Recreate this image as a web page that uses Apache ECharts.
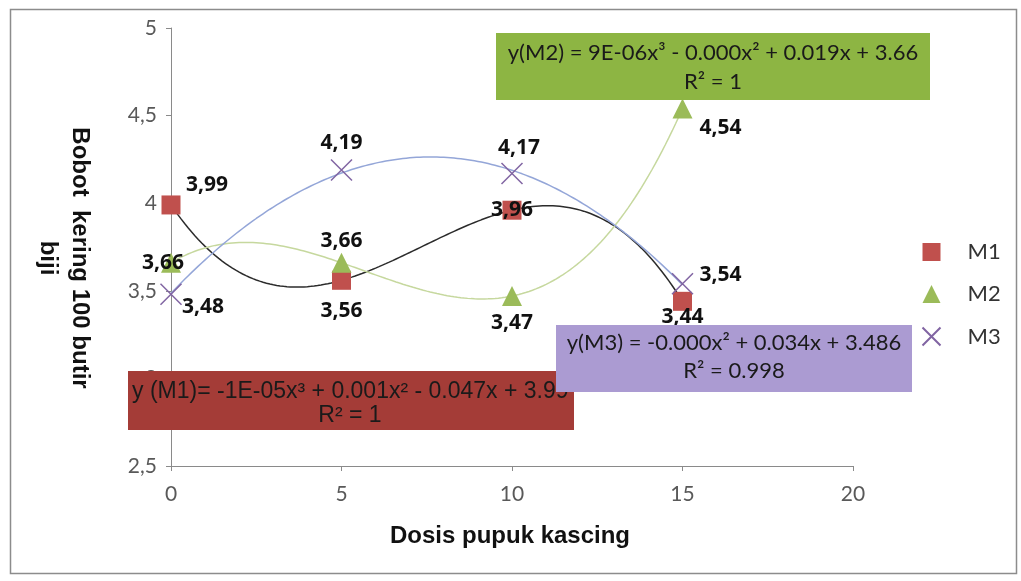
<!DOCTYPE html>
<html>
<head>
<meta charset="utf-8">
<script src="https://cdn.jsdelivr.net/npm/echarts@6/dist/echarts.min.js"></script>
<style>
html,body{margin:0;padding:0;background:#fff;}
#main{width:1021px;height:581px;}
</style>
</head>
<body>
<div id="main"></div>
<script>
// ---- data ----
var dosis = [0, 5, 10, 15];
var seriesNames = ['M1', 'M2', 'M3'];
var m1 = [3.99, 3.56, 3.96, 3.44];
var m2 = [3.66, 3.66, 3.47, 4.54];
var m3 = [3.48, 4.19, 4.17, 3.54];
var trendDegree = [3, 3, 2];
var yTicks = [2.5, 3, 3.5, 4, 4.5, 5];
var xTicks = [0, 5, 10, 15, 20];
var eqM1 = ['y (M1)= -1E-05x³ + 0.001x² - 0.047x + 3.99', 'R² = 1'];
var eqM2 = ['y(M2) = 9E-06x³ - 0.000x² + 0.019x + 3.66', 'R² = 1'];
var eqM3 = ['y(M3) = -0.000x² + 0.034x + 3.486', 'R² = 0.998'];
var xTitle = 'Dosis pupuk kascing';
var yTitle = 'Bobot  kering 100 butir\nbiji';

// ---- label offsets (style) ----
var labelOffsets = [
  [[36, -20], [0, 31], [0, 0], [0, 16]],
  [[-8, 0], [0, -22], [0, 27], [38, 19]],
  [[32, 13], [0, -27], [7, -25], [38, -9]]
];

// least-squares polynomial fit (trendline)
function polyfit(xs, ys, deg) {
  var n = deg + 1, A = [], b = [];
  for (var i = 0; i < n; i++) {
    A.push([]); b.push(0);
    for (var j = 0; j < n; j++) {
      var s = 0;
      for (var k = 0; k < xs.length; k++) s += Math.pow(xs[k], i + j);
      A[i].push(s);
    }
    for (var k2 = 0; k2 < xs.length; k2++) b[i] += ys[k2] * Math.pow(xs[k2], i);
  }
  for (var c = 0; c < n; c++) {
    var p = c;
    for (var r = c + 1; r < n; r++) if (Math.abs(A[r][c]) > Math.abs(A[p][c])) p = r;
    var t = A[c]; A[c] = A[p]; A[p] = t; var tb = b[c]; b[c] = b[p]; b[p] = tb;
    for (var r2 = c + 1; r2 < n; r2++) {
      var f = A[r2][c] / A[c][c];
      for (var cc = c; cc < n; cc++) A[r2][cc] -= f * A[c][cc];
      b[r2] -= f * b[c];
    }
  }
  var coef = new Array(n);
  for (var i2 = n - 1; i2 >= 0; i2--) {
    var s2 = b[i2];
    for (var j2 = i2 + 1; j2 < n; j2++) s2 -= A[i2][j2] * coef[j2];
    coef[i2] = s2 / A[i2][i2];
  }
  return coef;
}
function trend(xs, ys, deg) {
  var coef = polyfit(xs, ys, deg), out = [];
  var x0 = xs[0], x1 = xs[xs.length - 1];
  for (var x = x0; x <= x1 + 1e-9; x += 0.1) {
    var y = 0;
    for (var i = 0; i < coef.length; i++) y += coef[i] * Math.pow(x, i);
    out.push([x, y]);
  }
  return out;
}
function fmt(v) { return String(v).replace('.', ','); }

var markerColors = ['#c0504d', '#9bbb59', '#8064a2'];
var trendColors = ['#2b2b2b', '#c6d89e', '#94a6d8'];
var symbols = ['rect', 'triangle', 'path://M0,0L10,10M10,0L0,10'];
var allY = [m1, m2, m3];

var series = [];
allY.forEach(function (ys, si) {
  series.push({
    type: 'line',
    name: seriesNames[si] + ' trend',
    data: trend(dosis, ys, trendDegree[si]),
    showSymbol: false,
    symbol: 'none',
    lineStyle: { color: trendColors[si], width: 1.5 },
    z: 2,
    silent: true
  });
});
allY.forEach(function (ys, si) {
  series.push({
    type: 'scatter',
    name: seriesNames[si],
    symbol: symbols[si],
    symbolSize: si === 0 ? 19 : (si === 2 ? 21 : 20),
    itemStyle: si === 2
      ? { color: 'none', borderColor: markerColors[si], borderWidth: 1.5, opacity: 1 }
      : { color: markerColors[si], opacity: 1 },
    z: 3,
    data: dosis.map(function (x, i) {
      return {
        value: [x, ys[i]],
        label: { offset: labelOffsets[si][i] }
      };
    }),
    label: {
      show: true,
      position: 'inside',
      formatter: function (p) { return fmt(p.value[1]); },
      color: '#111',
      fontFamily: 'Open Sans',
      fontWeight: 'bold',
      fontSize: 21
    }
  });
});

var chart = echarts.init(document.getElementById('main'), null, { renderer: 'canvas' });
chart.setOption({
  animation: false,
  backgroundColor: '#fff',
  grid: { left: 171, right: 168, top: 28, bottom: 115 },
  xAxis: {
    type: 'value',
    min: xTicks[0], max: xTicks[xTicks.length - 1], interval: 5,
    axisLine: { lineStyle: { color: '#8a8a8a' } },
    axisTick: { show: true, length: 5, lineStyle: { color: '#8a8a8a' } },
    splitLine: { show: false },
    axisLabel: { color: '#595959', fontFamily: 'Lato', fontSize: 21, margin: 18 }
  },
  yAxis: {
    type: 'value',
    min: yTicks[0], max: yTicks[yTicks.length - 1], interval: 0.5,
    axisLine: { show: true, lineStyle: { color: '#8a8a8a' } },
    axisTick: { show: true, length: 5, lineStyle: { color: '#8a8a8a' } },
    splitLine: { show: false },
    axisLabel: { color: '#595959', fontFamily: 'Lato', fontSize: 21, margin: 14, formatter: function (v) { return fmt(v); } }
  },
  legend: {
    orient: 'vertical',
    left: 915, top: 236,
    itemGap: 20,
    itemWidth: 18, itemHeight: 18,
    data: seriesNames,
    textStyle: { color: '#333', fontFamily: 'Lato', fontSize: 22, padding: [0, 0, 0, 22] }
  },
  graphic: [
    { type: 'rect', left: 8, top: 7, shape: { width: 1006, height: 564 }, style: { fill: 'none', stroke: '#8c8c8c', lineWidth: 1.5 }, z: 0 },
    { type: 'text', x: 510, y: 536, style: { text: xTitle, font: 'bold 24px "Liberation Sans"', fill: '#111', align: 'center', verticalAlign: 'middle' } },
    { type: 'text', x: 64, y: 258, rotation: -Math.PI / 2, style: { text: yTitle, font: 'bold 24px "Liberation Sans"', fill: '#111', align: 'center', verticalAlign: 'middle', lineHeight: 32 } },
    // M2 box
    { type: 'rect', shape: { x: 496, y: 33, width: 434, height: 67 }, style: { fill: '#8db543' }, z: 10 },
    { type: 'text', x: 713, y: 53, style: { text: eqM2[0], font: '22px Lato', fill: '#1a1a1a', align: 'center', verticalAlign: 'middle' }, z: 11 },
    { type: 'text', x: 713, y: 82, style: { text: eqM2[1], font: '22px Lato', fill: '#1a1a1a', align: 'center', verticalAlign: 'middle' }, z: 11 },
    // M1 box
    { type: 'rect', shape: { x: 128, y: 371, width: 446, height: 59 }, style: { fill: '#a43c37' }, z: 10 },
    { type: 'text', x: 132, y: 392, style: { text: eqM1[0], font: '23px "Liberation Sans"', fill: '#1a1a1a', align: 'left', verticalAlign: 'middle', width: 440, overflow: 'truncate', ellipsis: '' }, z: 11 },
    { type: 'text', x: 350, y: 416, style: { text: eqM1[1], font: '23px "Liberation Sans"', fill: '#1a1a1a', align: 'center', verticalAlign: 'middle' }, z: 11 },
    // M3 box
    { type: 'rect', shape: { x: 556, y: 325, width: 356, height: 67 }, style: { fill: '#ab9bd2' }, z: 12 },
    { type: 'text', x: 734, y: 343, style: { text: eqM3[0], font: '22px Lato', fill: '#1a1a1a', align: 'center', verticalAlign: 'middle' }, z: 13 },
    { type: 'text', x: 734, y: 371, style: { text: eqM3[1], font: '22px Lato', fill: '#1a1a1a', align: 'center', verticalAlign: 'middle' }, z: 13 }
  ],
  series: series
});
</script>
</body>
</html>
